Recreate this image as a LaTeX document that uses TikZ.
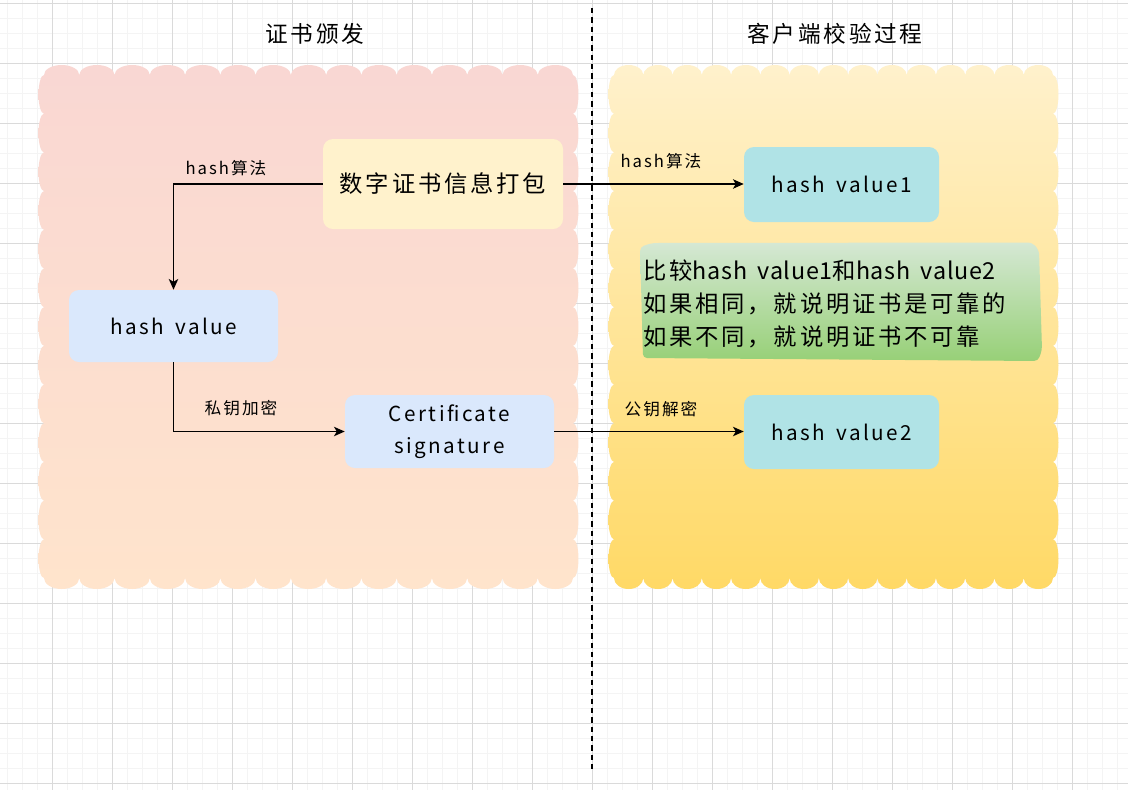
\documentclass[tikz,border=0pt]{standalone}
\usepackage{fontspec}
\setmainfont{Noto Sans CJK SC}[LetterSpace=12]
\newfontfamily\latn{Noto Sans CJK SC}[LetterSpace=3]
\usetikzlibrary{arrows.meta}
\definecolor{pinkT}{RGB}{249,215,211}
\definecolor{pinkB}{RGB}{255,228,204}
\definecolor{yelT}{RGB}{255,241,204}
\definecolor{yelB}{RGB}{255,217,102}
\definecolor{packC}{RGB}{255,242,204}
\definecolor{blueC}{RGB}{218,232,252}
\definecolor{tealC}{RGB}{176,227,230}
\definecolor{grT}{RGB}{213,232,212}
\definecolor{grB}{RGB}{151,208,119}
\definecolor{gridMaj}{RGB}{218,218,218}
\definecolor{gridMin}{RGB}{244,244,244}
\newcommand\wsp{\hspace{0.55em}}
\begin{document}
\begin{tikzpicture}[x=0.75pt,y=0.75pt,
  box/.style={rounded corners=7.5pt, inner sep=0pt, align=center, font=\fontsize{15.5}{24}\selectfont},
  arr/.style={draw=black, line width=1.2pt, -{Stealth[length=8pt,width=7pt,inset=2pt]}},
  lbl/.style={font=\fontsize{12.5}{15}\selectfont, inner sep=0pt},
  ttl/.style={font=\fontsize{17}{20}\selectfont, inner sep=0pt},
  gmin/.style={draw=gridMin, line width=0.75pt},
  gmaj/.style={draw=gridMaj, line width=0.75pt}]
\useasboundingbox (0,0) rectangle (1128,-790);
\fill[white] (0,0) rectangle (1128,-790);
% grid
\foreach \x in {7.7,22.7,...,1128} \draw[gmin] (\x,0) -- (\x,-790);
\foreach \y in {3.3,18.3,...,790} \draw[gmin] (0,-\y) -- (1128,-\y);
\foreach \x in {52.7,112.7,...,1128} \draw[gmaj] (\x,0) -- (\x,-790);
\foreach \y in {3.3,63.3,...,790} \draw[gmaj] (0,-\y) -- (1128,-\y);
% clouds
\shade[top color=pinkT, bottom color=pinkB] (44,-75)
  \foreach \i in {1,...,15} { arc[start angle=180,end angle=0,x radius=17.633,y radius=10] }
  \foreach \i in {1,...,13} { arc[start angle=90,end angle=-90,x radius=5.5,y radius=19.346] }
  \foreach \i in {1,...,15} { arc[start angle=0,end angle=-180,x radius=17.633,y radius=11] }
  \foreach \i in {1,...,13} { arc[start angle=-90,end angle=-270,x radius=5.5,y radius=19.346] }
  -- cycle;
\shade[top color=yelT, bottom color=yelB] (614,-75)
  \foreach \i in {1,...,15} { arc[start angle=180,end angle=0,x radius=14.633,y radius=10] }
  \foreach \i in {1,...,13} { arc[start angle=90,end angle=-90,x radius=5.5,y radius=19.346] }
  \foreach \i in {1,...,15} { arc[start angle=0,end angle=-180,x radius=14.633,y radius=11] }
  \foreach \i in {1,...,13} { arc[start angle=-90,end angle=-270,x radius=5.5,y radius=19.346] }
  -- cycle;
% divider
\coordinate (dtop) at (592,-8);
\coordinate (dbot) at (592,-770);
\draw[line width=1.1pt, dash pattern=on 4pt off 3pt] (dtop) -- (dbot);
% titles
\node[ttl] (t1) at (315,-34) {证书颁发};
\node[ttl] (t2) at (835,-34) {客户端校验过程};
% boxes
\node[box, fill=packC, minimum width=180pt, minimum height=67.5pt, font=\fontsize{17.5}{20}\selectfont] (pack) at (443,-184) {数字证书信息打包};
\node[box, fill=blueC, minimum width=156.75pt, minimum height=54pt] (hv) at (173.5,-326) {hash\wsp value};
\node[box, fill=blueC, minimum width=156.75pt, minimum height=54.75pt] (cs) at (449.5,-431.5) {Certificate\\signature};
\node[box, fill=tealC, minimum width=146.25pt, minimum height=56.25pt] (hv1) at (841.5,-184.5) {hash\wsp value1};
\node[box, fill=tealC, minimum width=146.25pt, minimum height=55.5pt] (hv2) at (841.5,-432) {hash\wsp value2};
% note
\shade[top color=grT, bottom color=grB, rounded corners=3pt]
  (640,-247) -- (652,-243) -- (1032,-242.5) -- (1039,-250) -- (1042,-350) -- (1038,-361)
  -- (643,-358) -- cycle;
\node[anchor=west, align=left, inner sep=0pt, font=\fontsize{17.5}{24.5}\selectfont] (note) at (643,-304)
  {比较{\latn hash\hspace{0.45em}value1}和{\latn hash\hspace{0.45em}value2}\\如果相同，就说明证书是可靠的\\如果不同，就说明证书不可靠};
% labels
\node[lbl] (l1) at (226,-168) {hash算法};
\node[lbl] (l2) at (241,-408) {私钥加密};
\node[lbl] (l3) at (661,-161) {hash算法};
\node[lbl] (l4) at (661,-409) {公钥解密};
% connectors
\draw[arr] (pack.west) -| (hv.north);
\draw[arr] (hv.south) |- (cs.west);
\draw[arr] (pack.east) -- (pack.east -| hv1.west);
\draw[arr] (cs.east) -- (cs.east -| hv2.west);
\end{tikzpicture}
\end{document}
